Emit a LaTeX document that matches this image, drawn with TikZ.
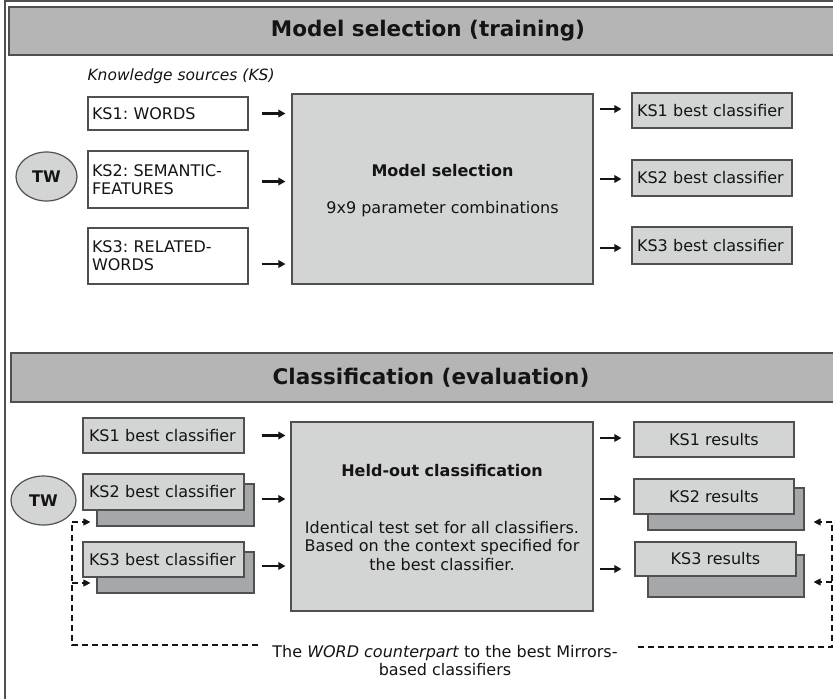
\documentclass[tikz,border=0pt]{standalone}
\usepackage{fontspec}
\setmainfont{DejaVu Sans}
\usetikzlibrary{arrows.meta,shapes.geometric}
\frenchspacing
\definecolor{hdrfill}{RGB}{181,181,181}
\definecolor{boxfill}{RGB}{211,212,212}
\definecolor{shadefill}{RGB}{166,167,168}
\definecolor{edgegray}{RGB}{80,80,80}
\definecolor{inkcol}{RGB}{20,20,20}
\tikzset{
  txt/.style={font=\fontsize{16}{18}\selectfont, text=inkcol},
  hdrbox/.style={draw=edgegray, line width=1.4pt, fill=hdrfill, minimum height=48pt,
    font=\fontsize{21.5}{24}\selectfont\bfseries, text=inkcol, inner sep=0pt},
  srcbox/.style={txt, draw=edgegray, line width=1.2pt, fill=white, minimum width=160pt,
    text width=152pt, inner xsep=4pt, inner ysep=0pt, align=left},
  greybox/.style={txt, draw=edgegray, line width=1.2pt, fill=boxfill, inner sep=0pt},
  leftgrey/.style={greybox, text width=150pt, inner xsep=5pt, inner ysep=0pt, align=left},
  backbox/.style={draw=edgegray, line width=1.2pt, fill=shadefill, inner sep=0pt},
  bigbox/.style={greybox, minimum width=301pt, minimum height=190pt},
  twnode/.style={ellipse, draw=edgegray, line width=1.2pt, fill=boxfill, inner sep=0pt,
    font=\fontsize{16}{18}\selectfont\bfseries, text=inkcol},
  arr/.style={draw=inkcol, line width=2.4pt, -{Triangle[length=7pt,width=7.5pt]}},
  dashline/.style={draw=inkcol, line width=1.1pt, dash pattern=on 6pt off 4pt},
  dasharr/.style={dashline, -{Triangle[length=7pt,width=7pt]}},
}
\begin{document}
\begin{tikzpicture}[x=1pt,y=-1pt]
\useasboundingbox (0,0) rectangle (833,699);
\clip (0,0) rectangle (833,699);
\fill[white] (0,0) rectangle (833,699);

% outer frame (runs past the right and bottom edges)
\draw[edgegray, line width=1.3pt] (5,1) rectangle (900,760);

% section headers
\node[hdrbox, minimum width=838pt] (h1) at (428,31) {Model selection (training)};
\node[hdrbox, minimum width=840pt, minimum height=49pt] (h2) at (431,377.5) {Classification (evaluation)};

% ---------------- training part ----------------
\node[txt, font=\fontsize{15.5}{18}\selectfont\itshape, anchor=west] (kslabel) at (84,76) {Knowledge sources (KS)};

\node[twnode, minimum width=61pt, minimum height=49pt] (tw1) at (46.5,176.5) {TW};

\node[srcbox, minimum height=33pt] (ks1) at (168,113.5) {KS1: WORDS};
\node[srcbox, minimum height=57pt] (ks2) at (168,179.5) {KS2: SEMANTIC-\\FEATURES};
\node[srcbox, minimum height=56pt] (ks3) at (168,256) {KS3: RELATED-\\WORDS};

\node[bigbox] (msel) at (442.5,189) {};
\node[txt, font=\fontsize{16}{18}\selectfont\bfseries] (mseltitle) at (442.5,171) {Model selection};
\node[txt] (mseltext) at (442.5,209) {9x9 parameter combinations};

\node[leftgrey, minimum height=35pt] (b1) at (712,110.5) {KS1 best classifier};
\node[leftgrey, minimum height=36pt] (b2) at (712,178) {KS2 best classifier};
\node[leftgrey, minimum height=37pt] (b3) at (712,245.5) {KS3 best classifier};

\draw[arr, shorten <=13pt, shorten >=6pt] (ks1.east) -- (ks1.east -| msel.west);
\draw[arr, shorten <=13pt, shorten >=6pt] ([yshift=-2pt]ks2.east) -- ([yshift=-2pt]ks2.east -| msel.west);
\draw[arr, shorten <=13pt, shorten >=6pt] ([yshift=-8pt]ks3.east) -- ([yshift=-8pt]ks3.east -| msel.west);

\draw[arr, shorten <=6pt, shorten >=10pt] ([yshift=1.5pt]msel.east |- b1) -- ([yshift=1.5pt]b1.west);
\draw[arr, shorten <=6pt, shorten >=10pt] ([yshift=-1pt]msel.east |- b2) -- ([yshift=-1pt]b2.west);
\draw[arr, shorten <=6pt, shorten >=10pt] ([yshift=-2.5pt]msel.east |- b3) -- ([yshift=-2.5pt]b3.west);

% ---------------- evaluation part ----------------
\node[twnode, minimum width=65pt, minimum height=49pt] (tw2) at (43.5,500.5) {TW};

\node[leftgrey, minimum height=35pt, text width=149pt, inner xsep=6pt] (c1) at (163.5,435.5) {KS1 best classifier};
\node[backbox, minimum width=157pt, minimum height=42pt] (c2b) at (175.5,505) {};
\node[leftgrey, minimum height=36pt, text width=149pt, inner xsep=6pt] (c2) at (163.5,492) {KS2 best classifier};
\node[backbox, minimum width=157pt, minimum height=41pt] (c3b) at (175.5,572.5) {};
\node[leftgrey, minimum height=35pt, text width=149pt, inner xsep=6pt] (c3) at (163.5,559.5) {KS3 best classifier};

\node[bigbox, minimum width=302pt, minimum height=189pt] (held) at (442,516.5) {};
\node[txt, font=\fontsize{16}{18}\selectfont\bfseries] (heldtitle) at (442,471) {Held-out classification};
\node[txt, align=center, font=\fontsize{16}{18.5}\selectfont] (heldtext) at (442,546) {Identical test set for all classifiers.\\Based on the context specified for\\the best classifier.};

\node[greybox, minimum width=160pt, minimum height=35pt] (r1) at (714,439.5) {KS1 results};
\node[backbox, minimum width=156pt, minimum height=42pt] (r2b) at (726,509) {};
\node[greybox, minimum width=160pt, minimum height=35pt] (r2) at (714,496.5) {KS2 results};
\node[backbox, minimum width=156pt, minimum height=42pt] (r3b) at (726,576) {};
\node[greybox, minimum width=161pt, minimum height=34pt] (r3) at (715.5,559) {KS3 results};

\draw[arr, shorten <=17pt, shorten >=5pt] (c1.east) -- (c1.east -| held.west);
\draw[arr, shorten <=17pt, shorten >=5pt] ([yshift=-7pt]c2.east) -- ([yshift=-7pt]c2.east -| held.west);
\draw[arr, shorten <=17pt, shorten >=5pt] ([yshift=-6.5pt]c3.east) -- ([yshift=-6.5pt]c3.east -| held.west);

\draw[arr, shorten <=6pt, shorten >=12pt] ([yshift=1.5pt]held.east |- r1) -- ([yshift=1.5pt]r1.west);
\draw[arr, shorten <=6pt, shorten >=12pt] ([yshift=-2.5pt]held.east |- r2) -- ([yshift=-2.5pt]r2.west);
\draw[arr, shorten <=6pt, shorten >=13pt] ([yshift=-10pt]held.east |- r3) -- ([yshift=-10pt]r3.west);

% WORD counterparts fed back to the classifiers and results
\node[txt, align=center] (note) at (445,661) {The \textit{WORD counterpart} to the best Mirrors-\\based classifiers};

\coordinate (lbot) at (72,645);
\coordinate (lup) at (72,522);
\coordinate (rbot) at (832,647);
\coordinate (rup) at (832,522);

\draw[dashline] (note.west |- lbot) ++(-11,0) -- (lbot) -- (lup);
\draw[dasharr, shorten >=6pt] (lup) -- (lup -| c2b.west);
\draw[dasharr, shorten >=6pt] (72,583) -- (c3b.west |- 0,583);

\draw[dashline] (note.east |- rbot) ++(17,0) -- (rbot) -- (rup);
\draw[dasharr, shorten >=9pt] (rup) -- (rup -| r2b.east);
\draw[dasharr, shorten >=9pt] (832,582) -- (r3b.east |- 0,582);
\end{tikzpicture}
\end{document}
